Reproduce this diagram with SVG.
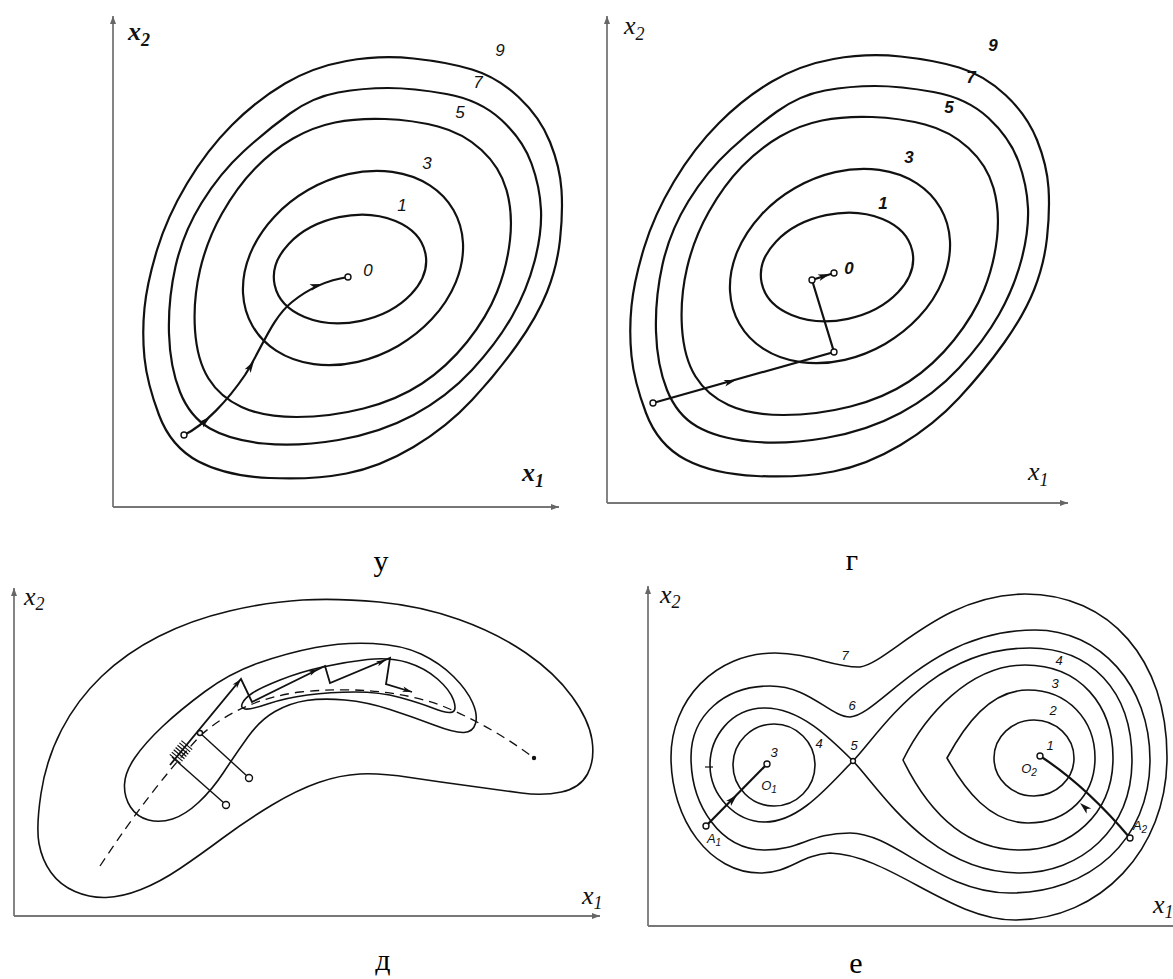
<svg xmlns="http://www.w3.org/2000/svg" xmlns:xlink="http://www.w3.org/1999/xlink" width="1173" height="979" viewBox="0 0 1173 979">
<style>
.bg{fill:#fff}
.c{fill:none;stroke:#111;stroke-width:2.2}
.ct{fill:none;stroke:#111;stroke-width:1.6}
.ax{fill:none;stroke:#777;stroke-width:1.8}
.tr{fill:none;stroke:#111;stroke-width:2.2}
.pt{fill:#fff;stroke:#111;stroke-width:1.4}
.dash{fill:none;stroke:#111;stroke-width:1.3;stroke-dasharray:9 6}
.num{font-family:"Liberation Sans",Arial,sans-serif;font-style:italic;font-size:17px;fill:#111;text-anchor:middle}
.sm{font-family:"Liberation Sans",Arial,sans-serif;font-style:italic;font-size:13px;fill:#111;text-anchor:middle}
.axl{font-family:"Liberation Serif","Times New Roman",serif;font-style:italic;font-size:26px;fill:#111}
.axs{font-family:"Liberation Serif","Times New Roman",serif;font-style:italic;font-size:18px;fill:#111}
.cap{font-family:"Liberation Serif","Times New Roman",serif;font-size:30px;fill:#000;text-anchor:middle}
</style>
<defs>
<marker id="ax" markerWidth="10" markerHeight="8" refX="8" refY="4" orient="auto" markerUnits="userSpaceOnUse"><path d="M0,1 L8,4 L0,7 Z" fill="#666"/></marker>
<path id="ah" d="M0,0 L-12,-3.5 L-9,0 L-12,3.5 Z" fill="#111"/>
</defs>
<rect class="bg" x="0" y="0" width="1173" height="979"/>

<!-- Panel у -->
<g id="panel-u">
<g id="axes-u">
<line class="ax" x1="113" y1="507" x2="113" y2="16" marker-end="url(#ax)"/>
<line class="ax" x1="113" y1="507" x2="559" y2="507" marker-end="url(#ax)"/>
<text class="axl" x="128" y="40" font-weight="bold">x<tspan class="axs" dy="6">2</tspan></text>
<text class="axl" x="522" y="481" font-weight="bold">x<tspan class="axs" dy="6">1</tspan></text>
</g>
<g id="u-contours">
<path class="c" d="M346.5,61 Q380,55 413.5,58.5 Q447,62 472,69.5 Q497,77 518.5,97 Q540,117 550,142 Q560,167 561.5,190 Q563,213 560,240 Q557,267 547,292 Q537,317 517,345 Q497,373 472,400 Q447,427 413.5,447 Q380,467 346.5,473.5 Q313,480 269.5,478 Q226,476 198.5,461.5 Q171,447 159,415 Q147,383 144.5,358 Q142,333 144.5,308 Q147,283 157,250 Q167,217 187,183.5 Q207,150 232,125 Q257,100 285,83.5 Q313,67 346.5,61 Z"/>
<path class="c" d="M338,92.5 Q363,88 388,88 Q413,88 446.5,94 Q480,100 501.5,120 Q523,140 531.5,163.5 Q540,187 541,210 Q542,233 534.5,261.5 Q527,290 512,316.5 Q497,343 472,370 Q447,397 413.5,415 Q380,433 338.5,440 Q297,447 263.5,443.5 Q230,440 210,428.5 Q190,417 180,392 Q170,367 169,333.5 Q168,300 175.5,266.5 Q183,233 201.5,203 Q220,173 243.5,151.5 Q267,130 290,113.5 Q313,97 338,92.5 Z"/>
<path class="c" d="M335,122.5 Q357,118 385,119 Q413,120 438,126.5 Q463,133 481.5,150 Q500,167 506.5,190 Q513,213 510,240 Q507,267 497,292 Q487,317 467,342 Q447,367 422,383.5 Q397,400 363.5,408.5 Q330,417 296.5,417 Q263,417 241.5,407 Q220,397 208.5,378.5 Q197,360 195,330 Q193,300 200,270 Q207,240 222,213.5 Q237,187 255,168.5 Q273,150 293,138.5 Q313,127 335,122.5 Z"/>
<ellipse class="c" cx="353" cy="268" rx="116" ry="90" transform="rotate(-30 353 268)"/>
<ellipse class="c" cx="350" cy="269" rx="77" ry="53" transform="rotate(-12 350 269)"/>
</g>
<g id="u-labels">
<text class="num" x="500" y="56">9</text>
<text class="num" x="478" y="88">7</text>
<text class="num" x="460" y="118">5</text>
<text class="num" x="427" y="169">3</text>
<text class="num" x="402" y="211">1</text>
<text class="num" x="368" y="276">0</text>
</g>
<g id="u-path">
<path class="tr" d="M184,435 C205,425 228,400 245,375 C262,348 272,318 292,302 C308,289 328,280 348,277"/>
<use xlink:href="#ah" transform="translate(210,417) rotate(-40)"/>
<use xlink:href="#ah" transform="translate(254,361) rotate(-58)"/>
<use xlink:href="#ah" transform="translate(322,284) rotate(-17)"/>
<circle class="pt" cx="184" cy="435" r="3"/>
<circle class="pt" cx="348" cy="277" r="3"/>
</g>
</g>
<text class="cap" x="381" y="571">у</text>

<!-- Panel г -->
<g id="panel-g">
<g id="axes-g">
<line class="ax" x1="607" y1="503" x2="607" y2="16" marker-end="url(#ax)"/>
<line class="ax" x1="607" y1="503" x2="1068" y2="503" marker-end="url(#ax)"/>
<text class="axl" x="624" y="34">x<tspan class="axs" dy="6">2</tspan></text>
<text class="axl" x="1028" y="480">x<tspan class="axs" dy="6">1</tspan></text>
</g>
<use xlink:href="#u-contours" transform="translate(487,-2)"/>
<g id="g-labels" font-weight="bold">
<text class="num" x="993" y="51">9</text>
<text class="num" x="971" y="83">7</text>
<text class="num" x="949" y="113">5</text>
<text class="num" x="909" y="163">3</text>
<text class="num" x="883" y="209">1</text>
<text class="num" x="849" y="274">0</text>
</g>
<g id="g-path">
<polyline class="tr" points="653,403 834,352 812,280 834,273"/>
<use xlink:href="#ah" transform="translate(736,380) rotate(-15.7)"/>
<use xlink:href="#ah" transform="translate(830,274) rotate(-18)"/>
<circle class="pt" cx="653" cy="403" r="3"/>
<circle class="pt" cx="834" cy="352" r="3"/>
<circle class="pt" cx="812" cy="280" r="3"/>
<circle class="pt" cx="834" cy="273" r="3"/>
</g>
</g>
<text class="cap" x="852" y="570">г</text>

<!-- Panel д -->
<g id="panel-d">
<g id="axes-d">
<line class="ax" x1="14" y1="916" x2="14" y2="588" marker-end="url(#ax)"/>
<line class="ax" x1="14" y1="916" x2="600" y2="916" marker-end="url(#ax)"/>
<text class="axl" x="24" y="605" font-size="19">x<tspan class="axs" font-size="13" dy="5">2</tspan></text>
<text class="axl" x="582" y="904" font-size="19">x<tspan class="axs" font-size="13" dy="5">1</tspan></text>
</g>
<g id="d-contours">
<path class="ct" d="M302.5,600 Q337,598 379,602 Q421,606 459,619.5 Q497,633 526,653 Q555,673 572,696.5 Q589,720 592,740 Q595,760 587.5,774 Q580,788 561.5,792 Q543,796 521.5,793 Q500,790 470,786 Q440,782 410,777.5 Q380,773 360,774 Q340,775 318.5,782.5 Q297,790 272,805 Q247,820 223.5,837.5 Q200,855 180,868.5 Q160,882 141,889.5 Q122,897 106,897.5 Q90,898 75,891.5 Q60,885 51,872.5 Q42,860 39,843.5 Q36,827 41,793.5 Q46,760 61.5,730 Q77,700 101.5,676.5 Q126,653 158.5,636.5 Q191,620 229.5,611 Q268,602 302.5,600 Z"/>
<path class="ct" d="M315.5,647.5 Q344,642 373,643.5 Q402,645 421,654 Q440,663 453.5,676.5 Q467,690 472.5,702.5 Q478,715 475.5,723.5 Q473,732 464,732.5 Q455,733 434,725 Q413,717 390,709.5 Q367,702 345,700 Q323,698 306.5,700.5 Q290,703 275,711.5 Q260,720 247.5,737.5 Q235,755 223.5,772.5 Q212,790 198.5,802.5 Q185,815 172.5,819 Q160,823 148.5,820 Q137,817 130.5,807 Q124,797 124.5,784.5 Q125,772 135,757.5 Q145,743 162.5,726.5 Q180,710 205,691.5 Q230,673 258.5,663 Q287,653 315.5,647.5 Z"/>
<path class="ct" d="M280,680 Q300,672 322.5,667 Q345,662 367.5,659.5 Q390,657 407.5,662.5 Q425,668 437.5,679 Q450,690 453.5,700 Q457,710 452.5,712 Q448,714 434,708.5 Q420,703 400,697.5 Q380,692 355,692 Q330,692 307.5,695 Q285,698 267.5,704 Q250,710 245,709 Q240,708 242.5,703 Q245,698 252.5,693 Q260,688 280,680 Z"/>
</g>
<g id="d-path">
<path class="dash" d="M100,866 Q150,790 200,736 Q240,700 300,692 Q380,684 440,705 Q490,725 534,758"/>
<circle cx="534" cy="758" r="2.2" fill="#111"/>
<polyline fill="none" stroke="#111" stroke-width="1.8" points="170,765 241,679 252,702 325,666 330,683 390,658 386,684 412,692"/>
<use xlink:href="#ah" transform="translate(241,679) rotate(-50) scale(0.8)"/>
<use xlink:href="#ah" transform="translate(318,669) rotate(-26) scale(0.8)"/>
<use xlink:href="#ah" transform="translate(386,660) rotate(-23) scale(0.8)"/>
<use xlink:href="#ah" transform="translate(412,692) rotate(17) scale(0.8)"/>
<g stroke="#111" stroke-width="1.2">
<line x1="169.8" y1="754.4" x2="180.6" y2="763.4"/>
<line x1="171.8" y1="752.1" x2="182.6" y2="761.1"/>
<line x1="173.7" y1="749.8" x2="184.5" y2="758.8"/>
<line x1="175.6" y1="747.5" x2="186.4" y2="756.5"/>
<line x1="177.5" y1="745.2" x2="188.3" y2="754.2"/>
<line x1="179.4" y1="742.9" x2="190.2" y2="751.9"/>
<line x1="181.4" y1="740.6" x2="192.2" y2="749.6"/>
</g>
<line x1="200" y1="733" x2="247" y2="776" stroke="#111" stroke-width="1.4"/>
<line x1="172" y1="757" x2="224" y2="803" stroke="#111" stroke-width="1.4"/>
<circle class="pt" cx="249" cy="778" r="3.5"/>
<circle class="pt" cx="226" cy="805" r="3.5"/>
<circle class="pt" cx="200" cy="733" r="2.5"/>
</g>
</g>
<text class="cap" x="383" y="970">д</text>

<!-- Panel е -->
<g id="panel-e">
<g id="axes-e">
<line class="ax" x1="648" y1="926" x2="648" y2="586" marker-end="url(#ax)"/>
<line class="ax" x1="648" y1="926" x2="1173" y2="926"/>
<text class="axl" x="660" y="603" font-size="19">x<tspan class="axs" font-size="13" dy="5">2</tspan></text>
<text class="axl" x="1153" y="913" font-size="19">x<tspan class="axs" font-size="13" dy="5">1</tspan></text>
</g>
<g id="e-contours">
<path class="ct" d="M671,757 C671,700 715,653 775,653 C810,653 835,668 860,667 C890,662 940,595 1025,594 C1110,594 1167,660 1167,757 C1167,850 1100,920 1015,920 C950,920 890,855 830,853 C800,855 790,873 760,873 C710,873 671,820 671,757 Z"/>
<path class="ct" d="M691,757 C691,715 725,686 770,686 C810,686 830,717 850,717 C880,715 930,630 1035,630 C1100,630 1150,685 1150,760 C1150,840 1090,893 1010,893 C940,893 895,833 850,833 C810,833 800,850 765,850 C720,850 691,805 691,757 Z"/>
<path class="ct" d="M853,761 C830,738 800,708 765,708 C730,708 710,738 710,765 C710,795 735,822 765,822 C800,822 830,784 853,761 C880,733 930,648 1030,648 C1090,648 1132,690 1132,760 C1132,830 1080,873 1020,873 C930,873 880,789 853,761 Z"/>
<path class="ct" d="M903,760 C925,715 970,665 1025,665 C1080,665 1113,705 1113,758 C1113,815 1070,850 1020,850 C960,850 925,805 903,760 Z"/>
<path class="ct" d="M947,758 C965,725 990,690 1028,690 C1068,690 1095,720 1095,758 C1095,795 1068,823 1028,823 C990,823 965,790 947,758 Z"/>
<ellipse class="ct" cx="1034" cy="758" rx="40" ry="38"/>
<circle class="ct" cx="774" cy="765" r="41"/>
<line x1="705" y1="767" x2="713" y2="767" stroke="#111" stroke-width="1.2"/>
</g>
<g id="e-labels">
<text class="sm" x="845" y="660">7</text>
<text class="sm" x="852" y="710">6</text>
<text class="sm" x="854" y="750">5</text>
<text class="sm" x="819" y="748">4</text>
<text class="sm" x="774" y="757">3</text>
<text class="sm" x="769" y="790">O<tspan font-size="10" dy="3">1</tspan></text>
<text class="sm" x="1029" y="773">O<tspan font-size="10" dy="3">2</tspan></text>
<text class="sm" x="1050" y="750">1</text>
<text class="sm" x="1053" y="715">2</text>
<text class="sm" x="1055" y="688">3</text>
<text class="sm" x="1059" y="665">4</text>
<text class="sm" x="714" y="843">A<tspan font-size="10" dy="3">1</tspan></text>
<text class="sm" x="1140" y="830">A<tspan font-size="10" dy="3">2</tspan></text>
</g>
<g id="e-paths">
<line class="tr" x1="706" y1="826" x2="767" y2="764"/>
<use xlink:href="#ah" transform="translate(737,795) rotate(-45)"/>
<path class="tr" d="M1130,838 Q1085,785 1040,756"/>
<use xlink:href="#ah" transform="translate(1080,803) rotate(-138)"/>
<circle class="pt" cx="706" cy="826" r="3"/>
<circle class="pt" cx="767" cy="764" r="3"/>
<circle class="pt" cx="1040" cy="756" r="3"/>
<circle class="pt" cx="1130" cy="838" r="3"/>
<circle class="pt" cx="853" cy="761" r="2.5"/>
</g>
</g>
<text class="cap" x="856" y="973">е</text>
</svg>
